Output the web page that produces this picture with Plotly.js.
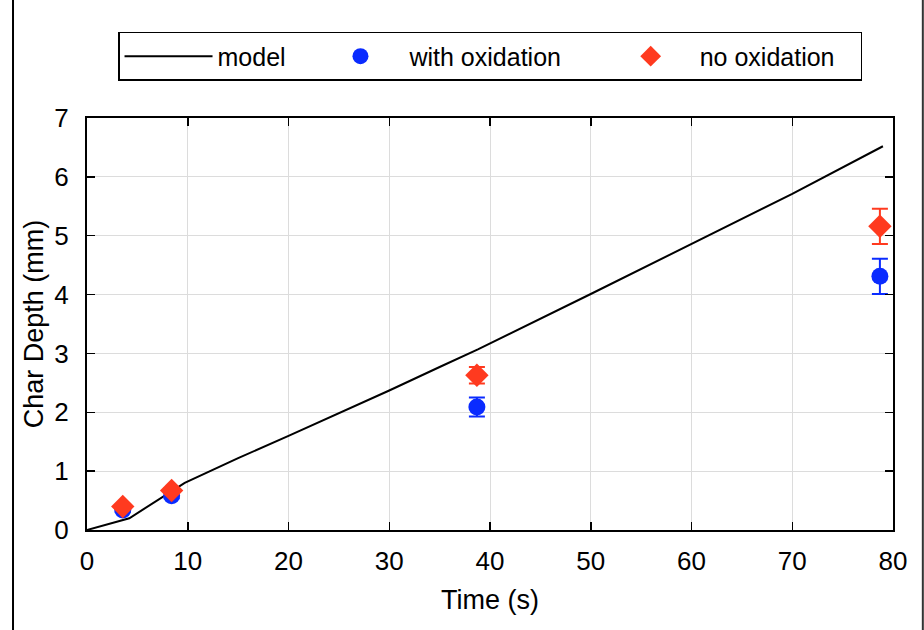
<!DOCTYPE html>
<html>
<head>
<meta charset="utf-8">
<script src="https://cdn.plot.ly/plotly-3.0.1.min.js"></script>
<style>html,body{margin:0;padding:0;background:#fff;}#chart{width:924px;height:630px;}</style>
</head>
<body>
<div id="chart"></div>
<script>
// Model curve
const modelTime = [0, 4.2, 9.7, 15, 20, 25, 30, 35, 38.8, 50, 60, 70, 79];
const modelDepth = [0, 0.2, 0.8, 1.22, 1.6, 1.98, 2.37, 2.77, 3.07, 4.01, 4.86, 5.71, 6.52];

// With oxidation
const oxTime = [3.55, 8.4, 38.7, 78.7];
const oxDepth = [0.34, 0.58, 2.09, 4.31];
const oxErr = [0.03, 0.04, 0.16, 0.3];

// No oxidation
const noOxTime = [3.55, 8.4, 38.7, 78.7];
const noOxDepth = [0.4, 0.67, 2.63, 5.16];
const noOxErr = [0.03, 0.04, 0.14, 0.3];

const seriesNames = ['model', 'with oxidation', 'no oxidation'];

const xTicks = [0, 10, 20, 30, 40, 50, 60, 70, 80];
const yTicks = [0, 1, 2, 3, 4, 5, 6, 7];

const blue = '#0a2bff';
const red = '#ff3a1f';
const nb = n => '\u00a0'.repeat(n);

const traces = [
  {x: modelTime, y: modelDepth, mode: 'lines', name: seriesNames[0] + nb(3),
   line: {color: '#000', width: 2}},
  {x: oxTime, y: oxDepth, mode: 'markers', name: seriesNames[1] + nb(5),
   marker: {symbol: 'circle', size: 17, color: blue},
   error_y: {type: 'data', array: oxErr, visible: true, color: blue, thickness: 2, width: 8}},
  {x: noOxTime, y: noOxDepth, mode: 'markers', name: seriesNames[2] + nb(3),
   marker: {symbol: 'diamond', size: 18, color: red},
   error_y: {type: 'data', array: noOxErr, visible: true, color: red, thickness: 2, width: 8}}
];

const axisCommon = {
  showline: true, linecolor: '#000', linewidth: 2, mirror: 'ticks',
  ticks: 'inside', ticklen: 8, tickwidth: 1.5, tickcolor: '#000',
  showgrid: true, gridcolor: '#dcdcdc', gridwidth: 1, zeroline: false,
  tickfont: {family: 'Liberation Sans, Arial, sans-serif', size: 26, color: '#000'}
};

const layout = {
  width: 924, height: 630,
  margin: {l: 87, r: 31, t: 118, b: 100},
  paper_bgcolor: '#fff', plot_bgcolor: '#fff',
  font: {family: 'Liberation Sans, Arial, sans-serif', color: '#000'},
  xaxis: Object.assign({}, axisCommon, {
    range: [0, 80], tickvals: xTicks, ticktext: xTicks.map(String),
    ticklabelstandoff: 7,
    title: {text: 'Time (s)', font: {size: 27}, standoff: 15}
  }),
  yaxis: Object.assign({}, axisCommon, {
    range: [0, 7], tickvals: yTicks, ticktext: yTicks.map(String),
    ticklabelstandoff: 11,
    title: {text: 'Char Depth (mm)', font: {size: 27}, standoff: 3}
  }),
  showlegend: true,
  legend: {
    orientation: 'h', x: 0.0385, xanchor: 'left', y: 1.209, yanchor: 'top',
    bordercolor: '#000', borderwidth: 1.5, bgcolor: '#fff',
    font: {size: 25, color: '#000'},
    itemwidth: 88
  },
  shapes: [
    {type: 'line', xref: 'paper', yref: 'paper', x0: -0.0918, x1: -0.0918, y0: -0.3, y1: 1.2985, line: {color: '#000', width: 2}},
    {type: 'line', xref: 'paper', yref: 'paper', x0: -0.0918, x1: 1.037, y0: 1.2985, y1: 1.2985, line: {color: '#000', width: 2}},
    {type: 'line', xref: 'paper', yref: 'paper', x0: 1.037, x1: 1.037, y0: -0.3, y1: 1.2985, line: {color: '#333', width: 2}}
  ]
};

Plotly.newPlot('chart', traces, layout, {displayModeBar: false, staticPlot: true});
</script>
</body>
</html>
